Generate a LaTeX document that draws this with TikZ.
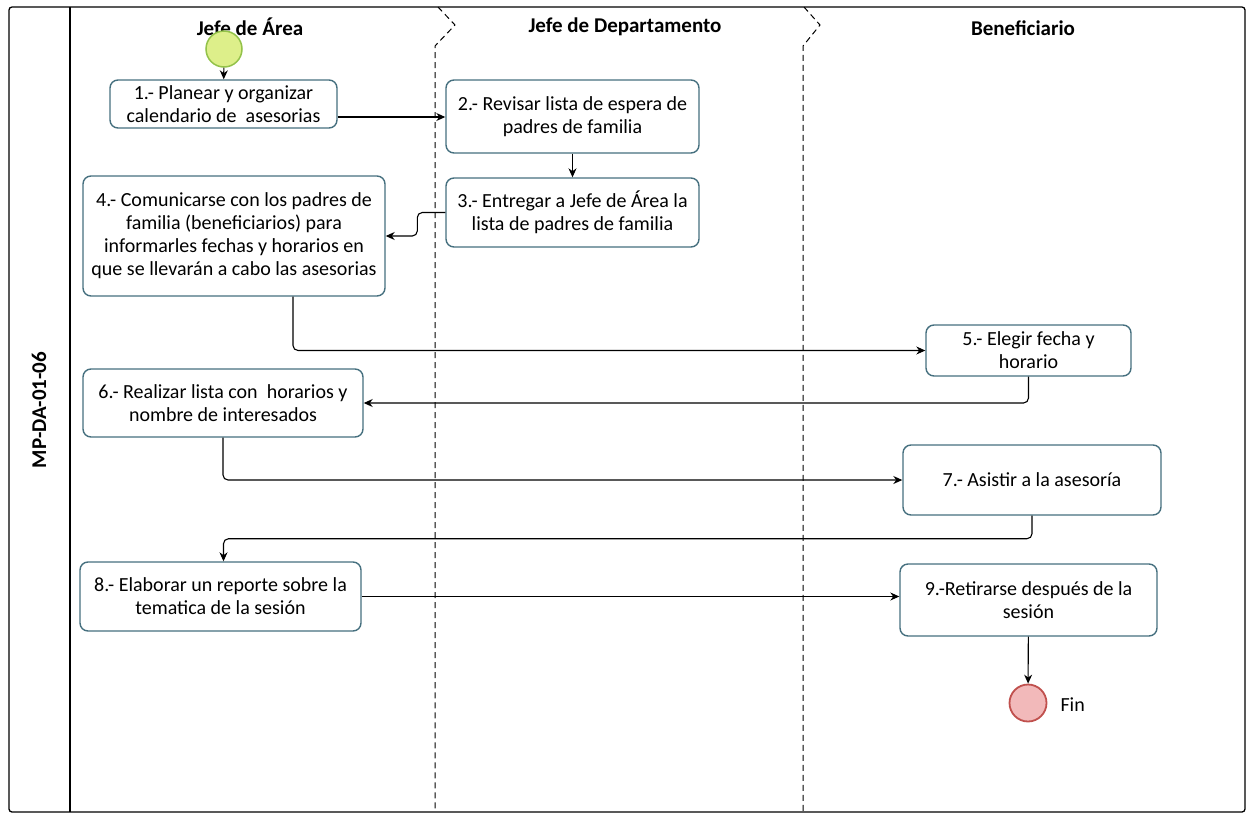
\documentclass[tikz,border=0pt]{standalone}
\usepackage{fontspec}
\setmainfont{Carlito}
\usetikzlibrary{arrows.meta,calc}
\definecolor{boxline}{HTML}{46707F}
\definecolor{startfill}{HTML}{DDEF8A}
\definecolor{startline}{HTML}{93C24A}
\definecolor{endfill}{HTML}{F2B9BA}
\definecolor{endline}{HTML}{C0504D}
\tikzset{
  stepbox/.style={draw=boxline, line width=1.4pt, rounded corners=8pt, fill=white,
    align=center, inner sep=2pt, font=\fontsize{20}{23}\selectfont},
  lanetitle/.style={font=\fontsize{21}{22}\selectfont\bfseries},
  flow/.style={draw=black, line width=1.1pt, rounded corners=5pt, -{Stealth[length=9pt,width=8pt]}},
  divider/.style={draw=black, line width=1pt, dash pattern=on 6pt off 4pt},
}
\begin{document}
\begin{tikzpicture}[x=1pt,y=-1pt]
\useasboundingbox (0,0) rectangle (1248,817);
% pool frame
\draw[line width=1.3pt, rounded corners=3pt] (9,7) rectangle (1245,812);
\draw[line width=1.2pt] (70,7) -- (70,812);
\node[rotate=90, font=\fontsize{21}{22}\selectfont\bfseries] (pool) at (39,410) {MP-DA-01-06};
% lane dividers
\draw[divider] (438,7) -- (455,25) -- (435,46) -- (435,812);
\draw[divider] (804,7) -- (820,25) -- (803,46) -- (803,812);
% lane titles
\node[lanetitle] (t1) at (250,27) {Jefe de Área};
\node[lanetitle] (t2) at (625,27) {Jefe de Departamento};
\node[lanetitle] (t3) at (1023,28) {Beneficiario};
% events
\node[circle, draw=startline, fill=startfill, line width=1.5pt, minimum size=36pt, inner sep=0pt] (s) at (224,49) {};
\node[circle, draw=endline, fill=endfill, line width=1.8pt, minimum size=37pt, inner sep=0pt] (e) at (1028,703) {};
\node[font=\fontsize{20}{22}\selectfont, anchor=west] (fin) at (1057,705) {Fin};
% tasks
\node[stepbox, minimum width=227pt, minimum height=48pt] (b1) at (223.5,104) {1.- Planear y organizar\\calendario de\ \ asesorias};
\node[stepbox, minimum width=253pt, minimum height=73pt] (b2) at (572.5,116.5) {2.- Revisar lista de espera de\\padres de familia};
\node[stepbox, minimum width=253pt, minimum height=69pt] (b3) at (572.5,212.5) {3.- Entregar a Jefe de Área la\\lista de padres de familia};
\node[stepbox, minimum width=302pt, minimum height=120pt] (b4) at (234,236) {4.- Comunicarse con los padres de\\familia (beneficiarios) para\\informarles fechas y horarios en\\que se llevarán a cabo las asesorias};
\node[stepbox, minimum width=205pt, minimum height=51pt] (b5) at (1028.5,350.5) {5.- Elegir fecha y\\horario};
\node[stepbox, minimum width=280pt, minimum height=68pt] (b6) at (223,403) {6.- Realizar lista con\ \ horarios y\\nombre de interesados};
\node[stepbox, minimum width=258pt, minimum height=70pt] (b7) at (1032,480) {7.- Asistir a la asesoría};
\node[stepbox, minimum width=281pt, minimum height=69pt] (b8) at (220.5,596.5) {8.- Elaborar un reporte sobre la\\tematica de la sesión};
\node[stepbox, minimum width=257pt, minimum height=72pt] (b9) at (1028.5,600) {9.-Retirarse después de la\\sesión};
% flows
\draw[flow] (s) -- (b1);
\draw[flow] ([yshift=-13pt]b1.east) -- ([yshift=-13pt]b1.east -| b2.west);
\draw[flow] (b2) -- (b3);
\draw[flow] (b3.west) -- ++(-28,0) |- (b4.east);
\draw[flow] ([xshift=59pt]b4.south) |- (b5.west);
\draw[flow] (b5.south) |- (b6.east);
\draw[flow] (b6.south) |- (b7.west);
\draw[flow] (b7.south) -- ++(0,23) -| ([xshift=3pt]b8.north);
\draw[flow] (b8.east) -- (b8.east -| b9.west);
\draw[flow] (b9) -- (e);
\end{tikzpicture}
\end{document}
